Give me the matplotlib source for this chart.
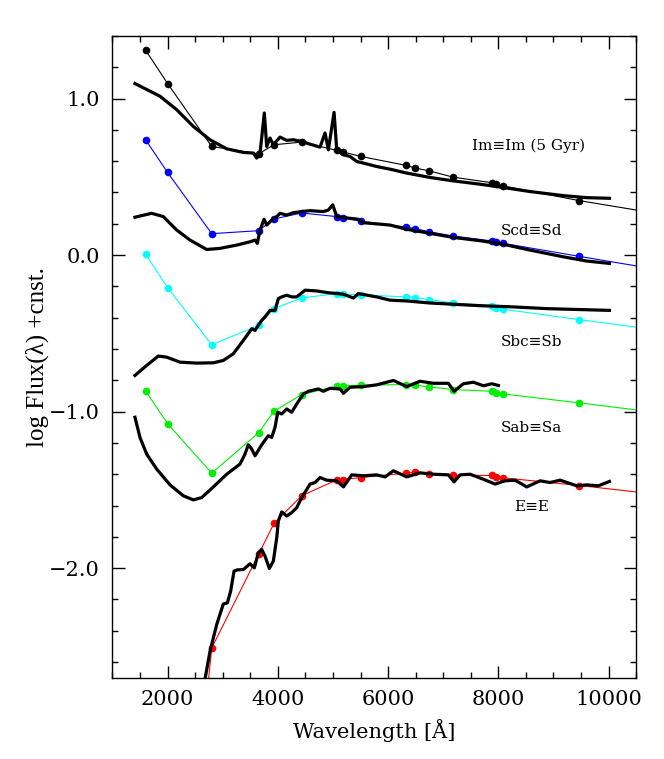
#!/usr/bin/python3
import numpy as np
import matplotlib.pyplot as plt
from matplotlib.ticker import MultipleLocator, FuncFormatter

#%%
# photometric points (last one is off the right edge of the plot)
wave = [1600, 2000, 2800, 3650, 3930, 4430, 5070, 5180, 5510,
        6330, 6490, 6750, 7180, 7890, 7950, 8090, 9470, 12500]

im_obs = [1.31, 1.096, 0.694, 0.647, 0.705, 0.722, 0.669, 0.659, 0.630,
          0.573, 0.556, 0.538, 0.498, 0.462, 0.453, 0.442, 0.348, 0.172]
scd_obs = [0.737, 0.528, 0.137, 0.156, 0.231, 0.269, 0.246, 0.239, 0.216,
           0.179, 0.169, 0.149, 0.122, 0.090, 0.083, 0.075, -0.008, -0.187]
sbc_obs = [0.006, -0.207, -0.573, -0.449, -0.342, -0.274, -0.246, -0.248, -0.254,
           -0.267, -0.271, -0.284, -0.306, -0.325, -0.335, -0.346, -0.412, -0.553]
sab_obs = [-0.867, -1.077, -1.393, -1.135, -0.998, -0.891, -0.838, -0.835, -0.831,
           -0.827, -0.831, -0.842, -0.859, -0.870, -0.883, -0.887, -0.944, -1.076]
e_obs = [-5.8, -5.3, -2.511, -1.912, -1.714, -1.538, -1.436, -1.434, -1.421,
         -1.393, -1.387, -1.397, -1.406, -1.408, -1.417, -1.423, -1.472, -1.593]

# model spectra
im_w = [1408, 1862, 2165, 2467, 2769, 3072, 3374, 3556, 3616, 3677, 3755, 3798,
        3858, 3918, 4040, 4161, 4282, 4433, 4584, 4766, 4856, 4917, 5020, 5069,
        5190, 5310, 5432, 5551, 5793, 6036, 6339, 6762, 7185, 7669, 8092, 8576,
        9181, 9605, 10016]
im_f = [1.096, 1.015, 0.929, 0.822, 0.737, 0.679, 0.656, 0.652, 0.620, 0.652, 0.908, 0.694,
        0.748, 0.705, 0.754, 0.733, 0.737, 0.726, 0.709, 0.690, 0.780, 0.673, 0.912, 0.673,
        0.641, 0.630, 0.598, 0.588, 0.566, 0.549, 0.524, 0.496, 0.474, 0.453, 0.432, 0.406,
        0.380, 0.367, 0.363]

scd_w = [1408, 1711, 1922, 2165, 2407, 2709, 2951, 3254, 3495, 3586, 3628, 3677, 3750,
         3798, 3889, 3980, 4040, 4161, 4282, 4433, 4584, 4826, 4917, 4996, 5069, 5310,
         5461, 5551, 6036, 6339, 6762, 7185, 7669, 8092, 8576, 9181, 9605, 10016]
scd_f = [0.242, 0.267, 0.246, 0.160, 0.096, 0.036, 0.043, 0.064, 0.085, 0.096, 0.075, 0.160, 0.229,
         0.192, 0.224, 0.246, 0.267, 0.256, 0.271, 0.278, 0.284, 0.278, 0.288, 0.321, 0.246, 0.235,
         0.229, 0.207, 0.192, 0.165, 0.139, 0.113, 0.092, 0.069, 0.032, -0.011, -0.038, -0.053]

sbc_w = [1408, 1620, 1831, 1983, 2225, 2528, 2830, 3011, 3193, 3374, 3526, 3586, 3646,
         3707, 3767, 3858, 3949, 4009, 4070, 4161, 4252, 4343, 4494, 4706, 4887, 5190,
         5371, 5461, 5793, 6036, 6339, 6762, 7185, 7669, 8274, 8879, 9484, 10016]
sbc_f = [-0.769, -0.705, -0.645, -0.652, -0.684, -0.690, -0.688, -0.673, -0.630, -0.545, -0.470, -0.481, -0.449,
         -0.417, -0.395, -0.353, -0.353, -0.278, -0.267, -0.256, -0.267, -0.267, -0.224, -0.229, -0.239, -0.250,
         -0.274, -0.246, -0.267, -0.288, -0.293, -0.306, -0.314, -0.323, -0.331, -0.342, -0.348, -0.353]

sab_w = [1408, 1499, 1620, 1802, 2044, 2286, 2467, 2619, 2830, 3072, 3314, 3404, 3464,
         3526, 3586, 3677, 3737, 3828, 3889, 3949, 3998, 4070, 4161, 4252, 4343, 4463,
         4554, 4736, 4826, 4947, 5129, 5190, 5310, 5551, 5793, 6096, 6339, 6580, 6822,
         7094, 7197, 7366, 7548, 7729, 7881, 8002]
sab_f = [-1.036, -1.165, -1.271, -1.367, -1.468, -1.538, -1.564, -1.549, -1.481, -1.400, -1.335, -1.271, -1.212,
         -1.239, -1.282, -1.229, -1.197, -1.154, -1.165, -1.100, -1.004, -1.015, -0.983, -1.004, -0.951, -0.887,
         -0.870, -0.855, -0.870, -0.851, -0.855, -0.883, -0.844, -0.840, -0.829, -0.801, -0.840, -0.806, -0.819,
         -0.819, -0.870, -0.822, -0.812, -0.835, -0.822, -0.833]

e_w = [2678, 2769, 2890, 3011, 3084, 3144, 3205, 3265, 3374, 3495, 3574, 3646, 3707,
       3767, 3846, 3918, 3980, 4009, 4070, 4161, 4252, 4343, 4433, 4584, 4675, 4766,
       4887, 5069, 5190, 5341, 5551, 5793, 5945, 6096, 6339, 6580, 6822, 7094, 7197,
       7306, 7488, 7729, 7941, 8123, 8305, 8516, 8758, 8939, 9121, 9423, 9605, 9816, 10016]
e_f = [-2.71, -2.532, -2.361, -2.229, -2.222, -2.147, -2.019, -2.011, -2.009, -1.972, -1.998, -1.902, -1.880,
       -1.923, -2.002, -1.955, -1.806, -1.699, -1.641, -1.667, -1.645, -1.613, -1.549, -1.463, -1.453, -1.421,
       -1.438, -1.442, -1.481, -1.404, -1.410, -1.404, -1.417, -1.378, -1.417, -1.391, -1.400, -1.404, -1.449,
       -1.404, -1.400, -1.432, -1.463, -1.442, -1.438, -1.481, -1.442, -1.453, -1.438, -1.474, -1.468, -1.474, -1.446]

labels = ['Im\u2261Im (5 Gyr)', 'Scd\u2261Sd', 'Sbc\u2261Sb', 'Sab\u2261Sa', 'E\u2261E']
label_y = [0.70, 0.156, -0.556, -1.107, -1.607]
colors = ['black', 'blue', 'cyan', '#00ee00', 'red']

#%%
fig = plt.figure(figsize=(6.64, 7.59), dpi=100)
ax = fig.add_axes([0.1694, 0.1071, 0.7886, 0.8455])

obs = [im_obs, scd_obs, sbc_obs, sab_obs, e_obs]
models = [(im_w, im_f), (scd_w, scd_f), (sbc_w, sbc_f), (sab_w, sab_f), (e_w, e_f)]

for o, c in zip(obs, colors):
    ax.plot(wave, o, '-', color=c, lw=0.8)
    ax.plot(wave, o, 'o', color=c, ms=5.5, mec='none')
for w, f in models:
    ax.plot(w, f, '-', color='black', lw=2.3, solid_joinstyle='round')

for t, y in zip(labels, label_y):
    ax.text(8550 if t.startswith('Im') else 8600, y, t, ha='center', va='center',
            fontsize=11, family='DejaVu Serif')

ax.set_xlim(1000, 10500)
ax.set_ylim(-2.7, 1.4)
ax.xaxis.set_major_locator(MultipleLocator(2000))
ax.xaxis.set_minor_locator(MultipleLocator(500))
ax.yaxis.set_major_locator(MultipleLocator(1.0))
ax.yaxis.set_minor_locator(MultipleLocator(0.2))
ax.yaxis.set_major_formatter(FuncFormatter(lambda v, p: ('%.1f' % v).replace('-', '\u2212')))
ax.tick_params(which='both', direction='in', top=True, right=True, width=1.0)
ax.tick_params(which='major', length=9, pad=9, labelsize=15)
ax.tick_params(which='minor', length=4.5)
for lab in ax.get_xticklabels() + ax.get_yticklabels():
    lab.set_family('DejaVu Serif')
for s in ax.spines.values():
    s.set_linewidth(1.0)

ax.set_xlabel('Wavelength [\u00c5]', fontsize=15, family='DejaVu Serif', labelpad=7)
ax.set_ylabel('log Flux(\u03bb) +cnst.', fontsize=18, family='Liberation Serif', labelpad=0)

fig.savefig('out.png', dpi=100)
